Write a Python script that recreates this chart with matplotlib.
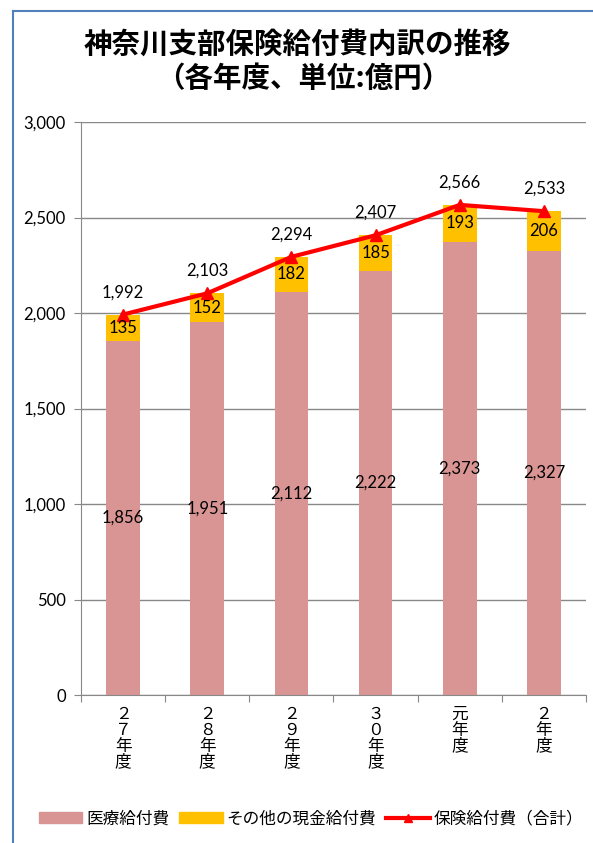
import matplotlib
matplotlib.use('Agg')
import matplotlib.pyplot as plt
from matplotlib.patches import Rectangle
from matplotlib.lines import Line2D
import numpy as np

plt.rcParams['font.family'] = ['Noto Sans CJK JP', 'DejaVu Sans']
NUM = ['Lato', 'DejaVu Sans']

years = ['２\n７\n年\n度', '２\n８\n年\n度', '２\n９\n年\n度', '３\n０\n年\n度', '元\n年\n度', '２\n年\n度']
medical = [1856, 1951, 2112, 2222, 2373, 2327]
other_cash = [135, 152, 182, 185, 193, 206]
total = [1992, 2103, 2294, 2407, 2566, 2533]

pink = '#D99594'
gold = '#FFC000'
red = '#FF0000'
grid = '#888888'

fig = plt.figure(figsize=(5.93, 8.43), dpi=100)
# blue frame (left and top visible)
fig.add_artist(Line2D([13 / 593, 13 / 593], [0, 1 - 11 / 843], color='#4F81BD', lw=1.5))
fig.add_artist(Line2D([13 / 593, 1], [1 - 11 / 843, 1 - 11 / 843], color='#4F81BD', lw=1.5))

fig.text(297 / 593, 1 - 45 / 843, '神奈川支部保険給付費内訳の推移', ha='center', va='center',
         fontsize=20.5, fontweight='bold')
fig.text(303 / 593, 1 - 79 / 843, '（各年度、単位:億円）', ha='center', va='center',
         fontsize=20.5, fontweight='bold')

ax = fig.add_axes([81 / 593, 1 - 695 / 843, (586 - 81) / 593, (695 - 122) / 843])
x = np.arange(len(years))
w = 0.4
ax.bar(x, medical, w, color=pink, zorder=2)
ax.bar(x, other_cash, w, bottom=medical, color=gold, zorder=2)
ax.plot(x, total, color=red, lw=3, marker='^', ms=8, zorder=3)

for i in range(len(years)):
    ax.text(x[i], medical[i] / 2, f'{medical[i]:,}', ha='center', va='center',
            fontsize=12, family=NUM)
    ax.text(x[i], medical[i] + other_cash[i] / 2, f'{other_cash[i]}', ha='center', va='center',
            fontsize=12, family=NUM)
    ax.text(x[i], total[i] + 75, f'{total[i]:,}', ha='center', va='bottom',
            fontsize=12, family=NUM)

ax.set_xlim(-0.5, len(years) - 0.5)
ax.set_ylim(0, 3000)
ax.set_yticks(np.arange(0, 3001, 500))
ax.set_yticklabels([f'{v:,}' for v in range(0, 3001, 500)], fontsize=12, family=NUM)
ax.yaxis.grid(True, color=grid, lw=1, zorder=0)
ax.set_axisbelow(True)

ax.set_xticks(np.arange(-0.5, len(years), 1))
ax.set_xticklabels([])
ax.set_xticks(x, minor=True)
ax.set_xticklabels(years, minor=True, fontsize=12, linespacing=0.9, va='top')
ax.tick_params(axis='x', which='minor', length=0, pad=8)
ax.tick_params(axis='x', which='major', length=5, color=grid, direction='out')
ax.tick_params(axis='y', length=5, color=grid, direction='out', pad=6)

for s in ['top', 'right']:
    ax.spines[s].set_visible(False)
for s in ['left', 'bottom']:
    ax.spines[s].set_color(grid)

handles = [Rectangle((0, 0), 1, 1, color=pink), Rectangle((0, 0), 1, 1, color=gold),
           Line2D([], [], color=red, lw=3, marker='^', ms=6)]
fig.legend(handles, ['医療給付費', 'その他の現金給付費', '保険給付費（合計）'], loc='center',
           bbox_to_anchor=(311 / 593, 1 - 819 / 843), ncol=3, frameon=False, fontsize=12,
           handlelength=2.6, handleheight=0.6, handletextpad=0.25, columnspacing=0.6)

fig.savefig('out.png', dpi=100)
